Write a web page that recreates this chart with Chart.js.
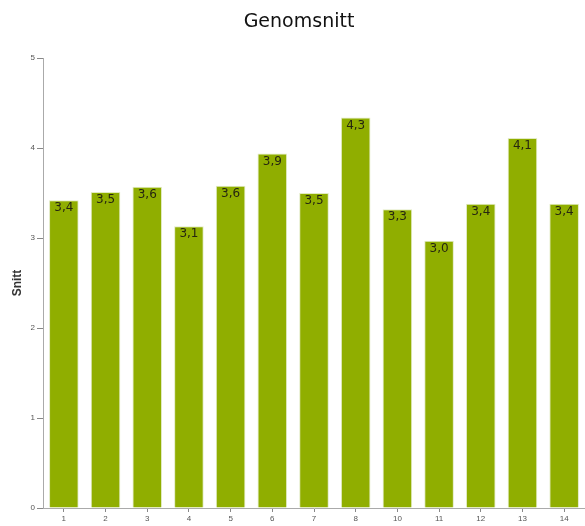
<!DOCTYPE html>
<html>
<head>
<meta charset="utf-8">
<script src="https://cdn.jsdelivr.net/npm/chart.js@4/dist/chart.umd.min.js"></script>
<style>
  html,body{margin:0;padding:0;background:#fff;overflow:hidden;}
  #wrap{width:585px;height:526px;}
</style>
</head>
<body>
<div id="wrap"><canvas id="c" width="585" height="526"></canvas></div>
<script>
/* chart data */
const titleText = "Genomsnitt";
const labels = ["1","2","3","4","5","6","7","8","10","11","12","13","14"];
const snitt = [3.42,3.51,3.57,3.13,3.58,3.94,3.50,4.34,3.32,2.97,3.38,4.11,3.38];
const yTicks = [0,1,2,3,4,5];

function fmt(n){return Number(n).toFixed(1).replace(".",",");}

// title sits a little right of the canvas centre in the original
const titleDraw = {
  id:"titleDraw",
  afterDraw(chart){
    const ctx = chart.ctx;
    ctx.save();
    ctx.font = "19px 'DejaVu Sans'";
    ctx.fillStyle = "#111";
    ctx.textAlign = "center";
    ctx.textBaseline = "middle";
    ctx.fillText(titleText, 299, 22);
    ctx.restore();
  }
};

// value labels inside the top of every bar
const barLabels = {
  id:"barLabels",
  afterDatasetsDraw(chart){
    const ctx = chart.ctx;
    const meta = chart.getDatasetMeta(0);
    ctx.save();
    ctx.font = "12px 'DejaVu Sans'";
    ctx.fillStyle = "#262610";
    ctx.textAlign = "center";
    ctx.textBaseline = "top";
    meta.data.forEach((bar,i)=>{ ctx.fillText(fmt(snitt[i]), bar.x, bar.y+2); });
    ctx.restore();
  }
};

new Chart(document.getElementById("c").getContext("2d"), {
  type:"bar",
  data:{labels:labels, datasets:[{
    data:snitt,
    backgroundColor:"#90ae00",
    borderColor:"#e2ebc4",
    borderWidth:1,
    barPercentage:0.71,
    categoryPercentage:1
  }]},
  options:{
    responsive:false,
    animation:false,
    layout:{padding:{left:0,right:0,top:58,bottom:0}},
    plugins:{
      legend:{display:false},
      tooltip:{enabled:false},
      title:{display:false}
    },
    scales:{
      x:{
        grid:{offset:false,drawOnChartArea:false,drawTicks:true,tickLength:4,color:"#888"},
        border:{display:true,color:"#aaa",width:1},
        ticks:{color:"#555",font:{family:"'Liberation Sans'",size:8},padding:2,maxRotation:0},
        afterFit(s){s.height=18;}
      },
      y:{
        min:0,max:5,
        grid:{drawOnChartArea:false,drawTicks:true,tickLength:6,color:"#888"},
        border:{display:true,color:"#aaa",width:1},
        afterBuildTicks(s){s.ticks=yTicks.map(v=>({value:v}));},
        ticks:{color:"#555",font:{family:"'Liberation Sans'",size:8},padding:2},
        title:{display:true,text:"Snitt",color:"#333",
          font:{family:"'Liberation Sans'",size:12,weight:"bold"},padding:{top:10,bottom:0}},
        afterFit(s){s.width=43;}
      }
    }
  },
  plugins:[barLabels,titleDraw]
});
</script>
</body>
</html>
